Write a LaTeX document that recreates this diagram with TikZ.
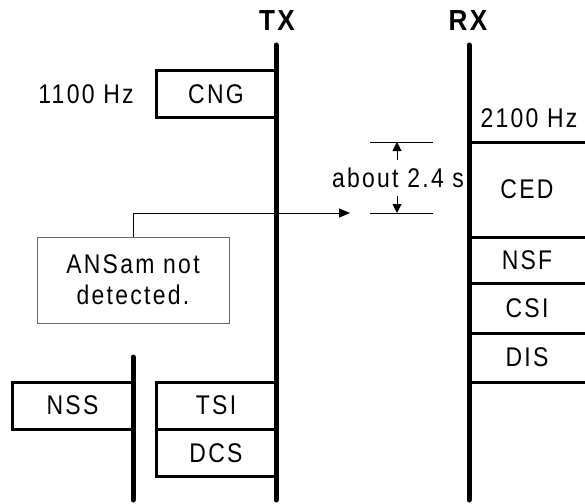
\documentclass[tikz,border=0pt]{standalone}
\usepackage{fontspec}
\setmainfont{Liberation Sans}[FakeStretch=0.85, LetterSpace=8.5]
\newfontfamily\headfont{Liberation Sans}[FakeStretch=0.9, LetterSpace=8]
\usetikzlibrary{arrows.meta}
\begin{document}
\begin{tikzpicture}[x=1pt,y=-1pt,
  every node/.style={font=\fontsize{27}{31}\selectfont, inner sep=0pt},
  lifeline/.style={line width=5pt, line cap=round},
  msgbox/.style={draw, line width=3pt, rectangle, minimum width=120pt, minimum height=47pt},
  sepline/.style={line width=3pt},
  thinline/.style={line width=1pt},
  head/.style={font=\headfont\fontsize{29}{32}\selectfont\bfseries}
]
\useasboundingbox (0,0) rectangle (585,503);
% labels
\node[head] (tx) at (277,21) {TX};
\node[head] (rx) at (468,21) {RX};
% lifelines
\coordinate (txtop) at (276,45);
\coordinate (txbot) at (276,500);
\coordinate (rxtop) at (469,45);
\coordinate (rxbot) at (469,500);
\coordinate (sstop) at (133,357);
\coordinate (ssbot) at (133,500);
% TX boxes
\node[msgbox] (cng) at (216,94) {CNG};
\node (f1100) at (86,94) {1100 Hz};
\node[msgbox] (tsi) at (216,405.5) {TSI};
\node[msgbox] (dcs) at (216,453) {DCS};
\node[msgbox, minimum width=121pt] (nss) at (72.5,405.5) {NSS};
\draw[lifeline] (txtop) -- (txbot);
\draw[lifeline] (sstop) -- (ssbot);
% RX side
\coordinate (r1a) at (469,142); \coordinate (r1b) at (585,142);
\coordinate (r2a) at (469,237); \coordinate (r2b) at (585,237);
\coordinate (r3a) at (469,283); \coordinate (r3b) at (585,283);
\coordinate (r4a) at (469,333); \coordinate (r4b) at (585,333);
\coordinate (r5a) at (469,382); \coordinate (r5b) at (585,382);
\draw[sepline] (r1a) -- (r1b);
\draw[sepline] (r2a) -- (r2b);
\draw[sepline] (r3a) -- (r3b);
\draw[sepline] (r4a) -- (r4b);
\draw[sepline] (r5a) -- (r5b);
\draw[lifeline] (rxtop) -- (rxbot);
\node (f2100) at (529,118) {2100 Hz};
\node (ced) at (527,189.5) {CED};
\node (nsf) at (527,260) {NSF};
\node (csi) at (527,308) {CSI};
\node (dis) at (527,357.5) {DIS};
% ANSam note
\node[draw=black!60, line width=1pt, minimum width=192pt, minimum height=86pt, align=center] (ansam) at (133,280) {ANSam not\\detected.};
\coordinate (ansend) at (350,213);
\draw[thinline, -{Triangle[length=11pt,width=9pt]}] (ansam.north) |- (ansend);
% dimension
\coordinate (d1a) at (370,142); \coordinate (d1b) at (433,142);
\coordinate (d2a) at (370,213); \coordinate (d2b) at (433,213);
\draw[thinline] (d1a) -- (d1b);
\draw[thinline] (d2a) -- (d2b);
\coordinate (up0) at (397,160); \coordinate (up1) at (397,142);
\coordinate (dn0) at (397,196); \coordinate (dn1) at (397,213);
\draw[thinline, -{Triangle[length=9pt,width=9pt]}] (up0) -- (up1);
\draw[thinline, -{Triangle[length=9pt,width=9pt]}] (dn0) -- (dn1);
\node (about) at (398,177.5) {about 2.4 s};
\end{tikzpicture}
\end{document}
